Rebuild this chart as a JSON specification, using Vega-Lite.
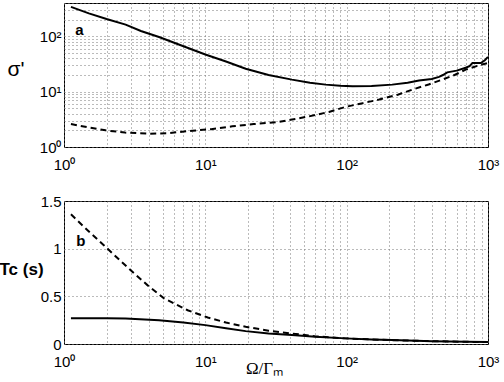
{
  "$schema": "https://vega.github.io/schema/vega-lite/v6.json",
  "padding": {"left": -2, "top": 2, "right": 5, "bottom": 0},
  "spacing": 54,
  "bounds": "flush",
  "background": "white",
  "config": {
    "view": {"stroke": "black", "strokeWidth": 1},
    "font": "Liberation Sans",
    "axis": {
      "grid": true,
      "gridDash": [1, 3],
      "gridColor": "#777",
      "gridWidth": 1,
      "ticks": false,
      "domain": false,
      "labelColor": "black",
      "labelFont": "Liberation Sans",
      "labelOverlap": false,
      "labelFlush": false,
      "titleColor": "black",
      "titleFont": "Liberation Sans"
    }
  },
  "datasets": {
    "topSolid": [
      {"x": 1.12, "y": 340}, {"x": 1.5, "y": 260}, {"x": 2, "y": 205}, {"x": 2.73, "y": 163},
      {"x": 3.5, "y": 125}, {"x": 4.7, "y": 97}, {"x": 7, "y": 66}, {"x": 10, "y": 47},
      {"x": 14, "y": 35}, {"x": 19.3, "y": 26}, {"x": 28, "y": 20}, {"x": 41, "y": 16.5},
      {"x": 55, "y": 14.5}, {"x": 71, "y": 13.4}, {"x": 90, "y": 12.8}, {"x": 110, "y": 12.5},
      {"x": 150, "y": 12.7}, {"x": 210, "y": 13.4}, {"x": 270, "y": 14.5}, {"x": 325, "y": 15.9},
      {"x": 400, "y": 17}, {"x": 450, "y": 18.5}, {"x": 480, "y": 20}, {"x": 515, "y": 22.3},
      {"x": 600, "y": 24}, {"x": 695, "y": 27}, {"x": 740, "y": 29}, {"x": 776, "y": 33},
      {"x": 890, "y": 33}, {"x": 950, "y": 37}, {"x": 1000, "y": 42.5}
    ],
    "topDashed": [
      {"x": 1.12, "y": 2.6}, {"x": 1.5, "y": 2.25}, {"x": 1.97, "y": 2.0}, {"x": 2.7, "y": 1.82},
      {"x": 4, "y": 1.74}, {"x": 5.5, "y": 1.78}, {"x": 8.1, "y": 1.97}, {"x": 11, "y": 2.1},
      {"x": 15.5, "y": 2.36}, {"x": 22, "y": 2.6}, {"x": 31.5, "y": 2.79}, {"x": 40, "y": 3.1},
      {"x": 54, "y": 3.57}, {"x": 75, "y": 4.3}, {"x": 98, "y": 5.3}, {"x": 130, "y": 6.2},
      {"x": 170, "y": 7.2}, {"x": 230, "y": 8.8}, {"x": 292, "y": 10.9}, {"x": 380, "y": 13.5},
      {"x": 475, "y": 16.5}, {"x": 580, "y": 20}, {"x": 695, "y": 25}, {"x": 850, "y": 29.5},
      {"x": 1000, "y": 33}
    ],
    "botSolid": [
      {"x": 1.12, "y": 0.27}, {"x": 2, "y": 0.27}, {"x": 2.73, "y": 0.267}, {"x": 4.7, "y": 0.25},
      {"x": 7, "y": 0.225}, {"x": 10, "y": 0.198}, {"x": 14, "y": 0.165}, {"x": 19.3, "y": 0.135},
      {"x": 28, "y": 0.11}, {"x": 41, "y": 0.094}, {"x": 60, "y": 0.075}, {"x": 98, "y": 0.059},
      {"x": 150, "y": 0.048}, {"x": 210, "y": 0.042}, {"x": 400, "y": 0.03}, {"x": 700, "y": 0.024},
      {"x": 1000, "y": 0.021}
    ],
    "botDashed": [
      {"x": 1.12, "y": 1.36}, {"x": 1.5, "y": 1.18}, {"x": 1.93, "y": 1.03}, {"x": 2.98, "y": 0.77},
      {"x": 3.91, "y": 0.615}, {"x": 5.13, "y": 0.476}, {"x": 7.5, "y": 0.354}, {"x": 10.4, "y": 0.278},
      {"x": 14, "y": 0.225}, {"x": 19.3, "y": 0.18}, {"x": 28, "y": 0.14}, {"x": 41, "y": 0.11},
      {"x": 60, "y": 0.08}, {"x": 98, "y": 0.059}, {"x": 150, "y": 0.048}, {"x": 210, "y": 0.04},
      {"x": 400, "y": 0.03}, {"x": 700, "y": 0.023}, {"x": 1000, "y": 0.02}
    ]
  },
  "vconcat": [
    {
      "width": 424,
      "height": 144,
      "layer": [
        {
          "data": {"name": "topSolid"},
          "mark": {"type": "line", "color": "black", "strokeWidth": 2, "clip": true},
          "encoding": {
            "x": {
              "field": "x", "type": "quantitative",
              "scale": {"type": "log", "domain": [1, 1000], "nice": false},
              "axis": {
                "title": null,
                "values": [1,2,3,4,5,6,7,8,9,10,20,30,40,50,60,70,80,90,100,200,300,400,500,600,700,800,900,1000],
                "labelExpr": "datum.value == 1 ? '10⁰' : datum.value == 10 ? '10¹' : datum.value == 100 ? '10²' : datum.value == 1000 ? '10³' : ''",
                "labelFontSize": {"condition": {"test": "datum.value == 1 || datum.value == 10 || datum.value == 100 || datum.value == 1000", "value": 15}, "value": 0},
                "labelPadding": 10,
                "labelDx": 2
              }
            },
            "y": {
              "field": "y", "type": "quantitative",
              "scale": {"type": "log", "domain": [1, 400], "nice": false},
              "axis": {
                "title": "σ'",
                "titleAngle": 0,
                "titleFontSize": 21,
                "titleFontWeight": "normal",
                "titleAlign": "left",
                "titleBaseline": "alphabetic",
                "titleX": -57,
                "titleY": 72,
                "values": [1,2,3,4,5,6,7,8,9,10,20,30,40,50,60,70,80,90,100,200,300,400],
                "labelExpr": "datum.value == 1 ? '10⁰' : datum.value == 10 ? '10¹' : datum.value == 100 ? '10²' : ''",
                "labelFontSize": {"condition": {"test": "datum.value == 1 || datum.value == 10 || datum.value == 100", "value": 15}, "value": 0},
                "labelPadding": 3
              }
            }
          }
        },
        {
          "data": {"name": "topDashed"},
          "mark": {"type": "line", "color": "black", "strokeWidth": 2, "strokeDash": [6, 4], "clip": true},
          "encoding": {
            "x": {"field": "x", "type": "quantitative"},
            "y": {"field": "y", "type": "quantitative"}
          }
        },
        {
          "data": {"values": [{}]},
          "mark": {"type": "text", "text": "a", "fontWeight": "bold", "fontSize": 15, "align": "left", "baseline": "alphabetic", "color": "black"},
          "encoding": {
            "x": {"datum": 1.2, "type": "quantitative"},
            "y": {"datum": 105, "type": "quantitative"}
          }
        }
      ]
    },
    {
      "width": 424,
      "height": 143,
      "layer": [
        {
          "data": {"name": "botSolid"},
          "mark": {"type": "line", "color": "black", "strokeWidth": 2, "clip": true},
          "encoding": {
            "x": {
              "field": "x", "type": "quantitative",
              "scale": {"type": "log", "domain": [1, 1000], "nice": false},
              "axis": {
                "title": "Ω/Γₘ",
                "titleFont": "Liberation Serif",
                "titleFontSize": 17,
                "titleFontWeight": "normal",
                "titleAlign": "center",
                "titleBaseline": "alphabetic",
                "titleX": 200,
                "titleY": 29,
                "values": [1,2,3,4,5,6,7,8,9,10,20,30,40,50,60,70,80,90,100,200,300,400,500,600,700,800,900,1000],
                "labelExpr": "datum.value == 1 ? '10⁰' : datum.value == 10 ? '10¹' : datum.value == 100 ? '10²' : datum.value == 1000 ? '10³' : ''",
                "labelFontSize": {"condition": {"test": "datum.value == 1 || datum.value == 10 || datum.value == 100 || datum.value == 1000", "value": 15}, "value": 0},
                "labelPadding": 10,
                "labelDx": 2
              }
            },
            "y": {
              "field": "y", "type": "quantitative",
              "scale": {"domain": [0, 1.5], "nice": false, "zero": false},
              "axis": {
                "title": "Tc (s)",
                "titleAngle": 0,
                "titleFontSize": 17,
                "titleFontWeight": "bold",
                "titleAlign": "left",
                "titleBaseline": "alphabetic",
                "titleX": -65,
                "titleY": 73,
                "values": [0, 0.5, 1, 1.5],
                "format": "~g",
                "labelFontSize": 15,
                "labelPadding": 3
              }
            }
          }
        },
        {
          "data": {"name": "botDashed"},
          "mark": {"type": "line", "color": "black", "strokeWidth": 2, "strokeDash": [6, 4], "clip": true},
          "encoding": {
            "x": {"field": "x", "type": "quantitative"},
            "y": {"field": "y", "type": "quantitative"}
          }
        },
        {
          "data": {"values": [{}]},
          "mark": {"type": "text", "text": "b", "fontWeight": "bold", "fontSize": 15, "align": "left", "baseline": "alphabetic", "color": "black"},
          "encoding": {
            "x": {"datum": 1.22, "type": "quantitative"},
            "y": {"datum": 1.03, "type": "quantitative"}
          }
        }
      ]
    }
  ]
}
